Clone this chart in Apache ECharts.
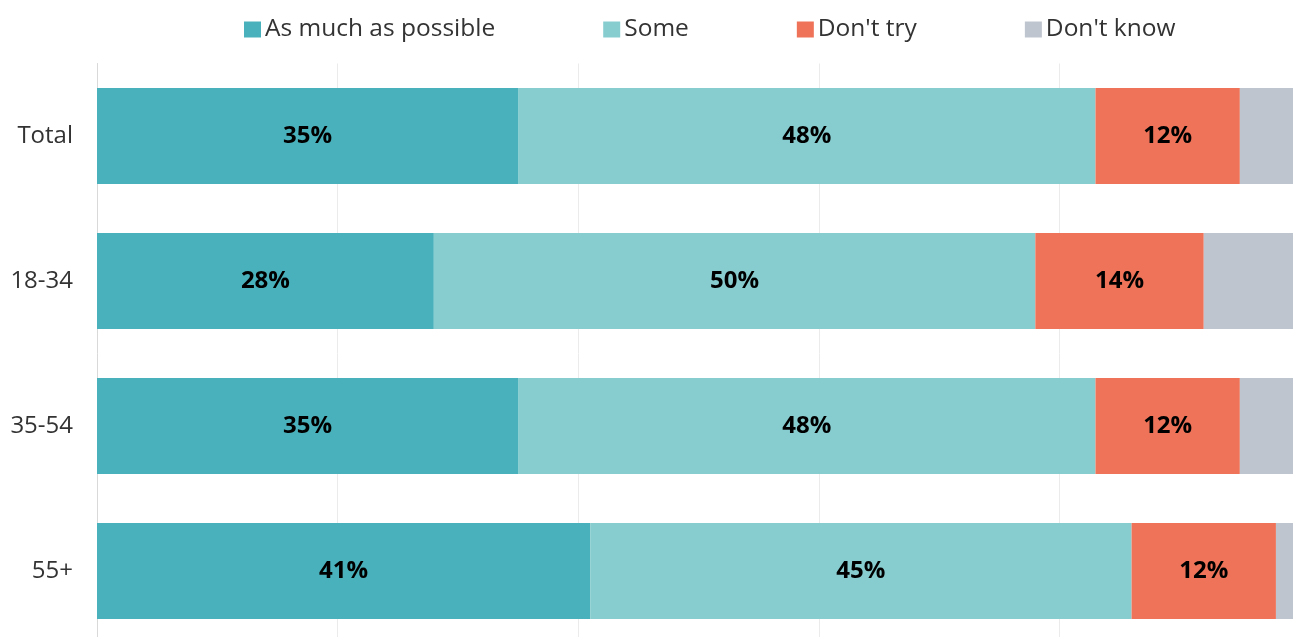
<!DOCTYPE html>
<html>
<head>
    <meta charset="utf-8">
    <title>ECharts</title>
    <script src="https://cdn.jsdelivr.net/npm/echarts/dist/echarts.min.js"></script>
    <style>
        html, body { margin: 0; padding: 0; background: #fff; overflow: hidden; }
    </style>
</head>
<body>
    <!-- chart is a bit wider/taller than the window: the last gridline and bar bottoms get cut like in the original -->
    <div id="main" style="width: 1300px;height:644px;"></div>
    <script>
        var categories = ['Total', '18-34', '35-54', '55+'];
        var seriesNames = ['As much as possible', 'Some', "Don't try", "Don't know"];
        var asMuch = [35, 28, 35, 41];
        var some = [48, 50, 48, 45];
        var dontTry = [12, 14, 12, 12];
        var dontKnow = [5, 8, 5, 2];
        var colors = ['#49b1bb', '#87cdd0', '#ef7358', '#bfc5ce'];

        var chartDom = document.getElementById('main');
        var myChart = echarts.init(chartDom);

        var font = '"Open Sans", Lato, sans-serif';

        function makeSeries(name, data, showLabel) {
            return {
                name: name,
                type: 'bar',
                stack: 'total',
                barWidth: 96,
                data: data,
                label: {
                    show: showLabel,
                    position: 'inside',
                    formatter: '{c}%',
                    color: '#000',
                    fontFamily: font,
                    fontWeight: 'bold',
                    fontSize: 24
                },
                emphasis: { disabled: true }
            };
        }

        var option = {
            color: colors,
            animation: false,
            legend: {
                top: 17,
                left: 244,
                padding: 0,
                itemWidth: 17,
                itemHeight: 16,
                itemGap: 108,
                icon: 'rect',
                textStyle: {
                    fontFamily: font,
                    fontSize: 24.5,
                    color: '#333',
                    padding: [0, 0, 0, -1]
                },
                data: seriesNames
            },
            grid: {
                left: 97,
                right: 0,
                top: 63.5,
                bottom: 0.5,
                containLabel: false
            },
            xAxis: {
                type: 'value',
                min: 0,
                max: 100,
                interval: 20,
                axisLabel: { show: false },
                axisLine: { show: false },
                axisTick: { show: false },
                splitLine: { lineStyle: { color: '#ebebeb', width: 1 } }
            },
            yAxis: {
                type: 'category',
                inverse: true,
                data: categories,
                axisTick: { show: false },
                axisLine: { show: true, lineStyle: { color: '#d9d9d9' } },
                axisLabel: {
                    margin: 24,
                    fontFamily: font,
                    fontSize: 24,
                    color: '#333'
                }
            },
            series: [
                makeSeries(seriesNames[0], asMuch, true),
                makeSeries(seriesNames[1], some, true),
                makeSeries(seriesNames[2], dontTry, true),
                makeSeries(seriesNames[3], dontKnow, false)
            ]
        };

        myChart.setOption(option);
    </script>
</body>
</html>
